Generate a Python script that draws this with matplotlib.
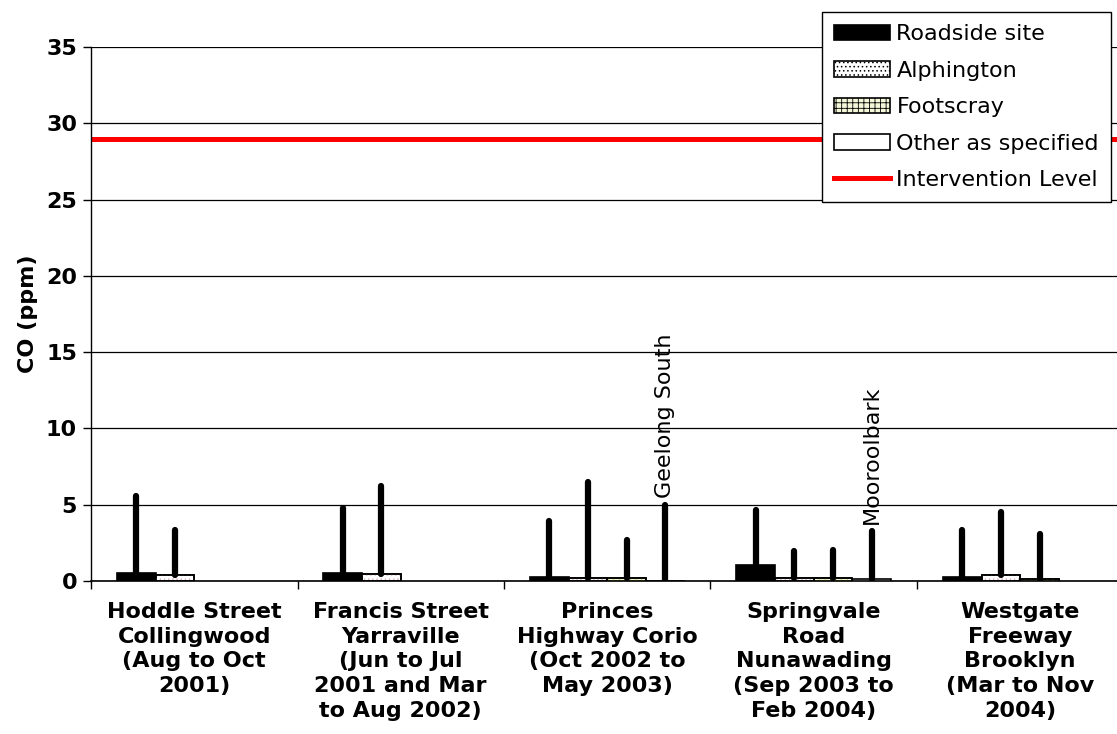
import matplotlib
matplotlib.use("Agg")
import matplotlib.pyplot as plt
from matplotlib.patches import Patch
from matplotlib.lines import Line2D
import numpy as np

categories = [
    "Hoddle Street\nCollingwood\n(Aug to Oct\n2001)",
    "Francis Street\nYarraville\n(Jun to Jul\n2001 and Mar\nto Aug 2002)",
    "Princes\nHighway Corio\n(Oct 2002 to\nMay 2003)",
    "Springvale\nRoad\nNunawading\n(Sep 2003 to\nFeb 2004)",
    "Westgate\nFreeway\nBrooklyn\n(Mar to Nov\n2004)",
]
series_names = ["Roadside site", "Alphington", "Footscray", "Other as specified"]
# mean values (bar heights); None = no data
roadside_mean = [0.55, 0.55, 0.25, 1.05, 0.28]
alphington_mean = [0.40, 0.48, 0.22, 0.22, 0.42]
footscray_mean = [None, None, 0.22, 0.22, 0.13]
other_mean = [None, None, 0.0, 0.13, None]
# maximum values (top of the thick lines)
roadside_max = [5.55, 4.8, 3.9, 4.65, 3.35]
alphington_max = [3.35, 6.2, 6.5, 1.95, 4.55]
footscray_max = [None, None, 2.7, 2.05, 3.1]
other_max = [None, None, 4.95, 3.25, None]
other_labels = [None, None, "Geelong South", "Mooroolbark", None]
intervention_level = 29
yticks = [0, 5, 10, 15, 20, 25, 30, 35]

means = [roadside_mean, alphington_mean, footscray_mean, other_mean]
maxes = [roadside_max, alphington_max, footscray_max, other_max]

plt.rcParams['font.family'] = ['DejaVu Sans']
plt.rcParams['hatch.linewidth'] = 0.6

FS = 16
W, H = 1117, 734
fig = plt.figure(figsize=(W / 100, H / 100), dpi=100)
left_px, right_px, bottom_px, top_px = 91, 1117, 581, 47
ax = fig.add_axes([left_px / W, 1 - bottom_px / H, (right_px - left_px) / W, (bottom_px - top_px) / H])

cat_px = 206.5
ax.set_xlim(0, (right_px - left_px) / cat_px)
ax.set_ylim(0, 35)

facecolors = ["black", "white", "#f4f8d8", "white"]
hatch_specs = [None, ("....", "#d8b8c0"), ("+++", "#a8c860"), None]

w = 0.1875
gap = 0.125
for k in range(4):
    for i in range(len(categories)):
        v = means[k][i]
        if v is None:
            continue
        x = i + gap + w * k
        ax.bar(x, v, width=w, align="edge", color=facecolors[k], edgecolor="black", linewidth=1.2, zorder=3)
        if hatch_specs[k] is not None and v > 0:
            ax.bar(x, v, width=w, align="edge", color="none", edgecolor=hatch_specs[k][1],
                   hatch=hatch_specs[k][0], linewidth=0, zorder=3.1)
            ax.bar(x, v, width=w, align="edge", color="none", edgecolor="black", linewidth=1.2, zorder=3.2)
        m = maxes[k][i]
        if m is not None:
            xc = x + w / 2
            ax.plot([xc, xc], [v, m], color="black", linewidth=4.5, solid_capstyle="round", zorder=4)
        lab = other_labels[i] if k == 3 else None
        if lab:
            ax.text(x + w / 2, m + 0.5, lab, rotation=90, ha="center", va="bottom", fontsize=FS, zorder=5)

ax.axhline(intervention_level, color="#ff0000", linewidth=3.6, zorder=2)

ax.set_yticks(yticks)
ax.yaxis.grid(True, color="black", linewidth=0.9, zorder=0)
ax.set_axisbelow(True)
ax.tick_params(axis="y", direction="out", length=6, width=1, labelsize=FS, pad=4)
for t in ax.get_yticklabels():
    t.set_fontweight("bold")

ax.set_xticks(np.arange(0, 5))
ax.set_xticklabels([])
ax.set_xticks(np.arange(len(categories)) + 0.5, minor=True)
ax.set_xticklabels(categories, minor=True, fontsize=FS, fontweight="bold", linespacing=1.3)
ax.tick_params(axis="x", which="major", direction="out", length=6, width=1)
ax.tick_params(axis="x", which="minor", length=0, pad=15)

for s in ["top", "right"]:
    ax.spines[s].set_visible(False)
ax.spines["left"].set_linewidth(1)
ax.spines["bottom"].set_linewidth(1.2)

ax.set_ylabel("CO (ppm)", fontsize=FS, fontweight="bold", labelpad=6)

handles = [
    Patch(facecolor="black", edgecolor="black", linewidth=1.2),
    Patch(facecolor="white", edgecolor="black", hatch="....", linewidth=1.2),
    Patch(facecolor="#f4f8d8", edgecolor="black", hatch="+++", linewidth=1.2),
    Patch(facecolor="white", edgecolor="black", linewidth=1.2),
    Line2D([0], [0], color="#ff0000", linewidth=3.6),
]
labels = series_names + ["Intervention Level"]
leg = fig.legend(handles, labels, loc="upper left", bbox_to_anchor=(822 / W, 1 - 12 / H),
                 fontsize=FS, frameon=True, fancybox=False, edgecolor="black", framealpha=1,
                 handlelength=2.5, handleheight=0.7, handletextpad=0.3, labelspacing=0.74,
                 borderpad=0.55, borderaxespad=0)
leg.get_frame().set_linewidth(1)

fig.savefig("out.png", dpi=100)
